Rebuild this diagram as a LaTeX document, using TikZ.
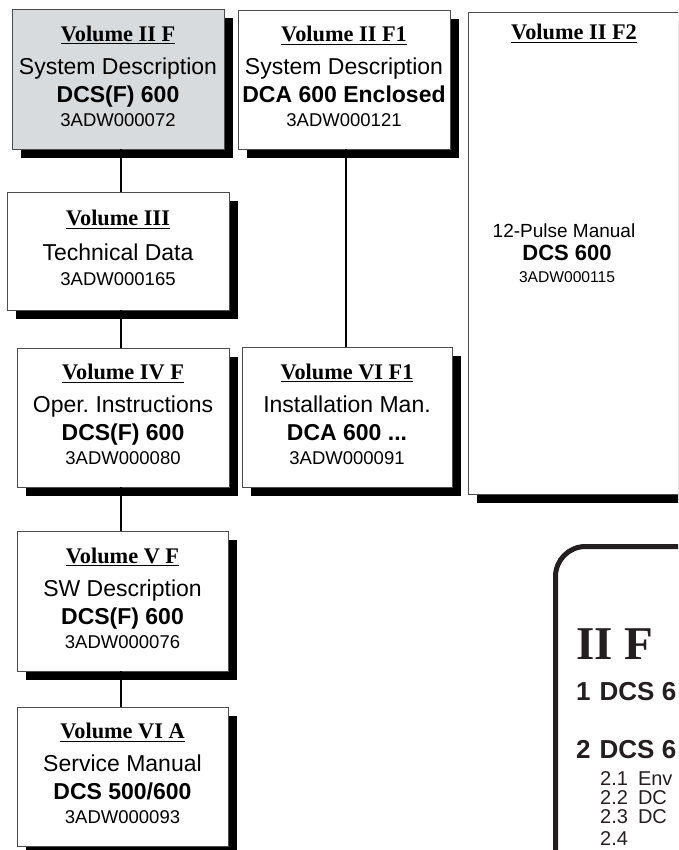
\documentclass[tikz,border=0pt]{standalone}
\usepackage{fontspec}
\setmainfont{Liberation Serif}
\newfontfamily\arial{Liberation Sans}
\newfontfamily\tnr{Liberation Serif}
\usetikzlibrary{shadows}
\definecolor{boxgray}{RGB}{216,219,222}
\definecolor{ink}{RGB}{35,31,32}
\frenchspacing
\newcommand\ulx[1]{\setbox0\hbox{#1}\rlap{\rule[-3.2pt]{\wd0}{1.2pt}}\box0}
\newcommand\tit[1]{{\tnr\bfseries\fontsize{22.3}{28}\selectfont\ulx{#1}}}
\newcommand\rg[1]{{\arial\mdseries\fontsize{23}{28}\selectfont #1}}
\newcommand\bd[1]{{\arial\bfseries\fontsize{23}{28}\selectfont #1}}
\newcommand\nm[1]{{\arial\mdseries\fontsize{18.5}{28}\selectfont #1\rule[-6pt]{0pt}{0pt}}}
\begin{document}
\begin{tikzpicture}[x=1pt,y=-1pt,
  vbox/.style={draw=black!70, line width=0.9pt, fill=white, inner sep=0pt, align=center,
    font=\fontsize{22}{28}\selectfont,
    drop shadow={shadow xshift=9pt,shadow yshift=-9pt,fill=black,opacity=1}},
  conn/.style={line width=2pt, black},
  lbl/.style={inner sep=0pt},
  rtxt/.style={inner sep=0pt, anchor=base west, text=ink}]
\useasboundingbox (0,0) rectangle (678,850);
\clip (0,0) rectangle (678,850);
\coordinate (cx) at (121,0);
\coordinate (cy) at (346,0);
% left column
\node[vbox, fill=boxgray, minimum width=212pt, minimum height=140pt] (b1) at (118,79)
  {\tit{Volume II F}\\[5pt]\rg{System Description}\\\bd{DCS(F) 600}\\[-4pt]\nm{3ADW000072}};
\node[vbox, minimum width=222pt, minimum height=118pt] (b2) at (118,251)
  {\tit{Volume III}\\[7pt]\rg{Technical Data}\\[-3pt]\nm{3ADW000165}};
\node[vbox, minimum width=212pt, minimum height=139pt] (b3) at (123,417.5)
  {\tit{Volume IV F}\\[5pt]\rg{Oper. Instructions}\\\bd{DCS(F) 600}\\[-4pt]\nm{3ADW000080}};
\node[vbox, minimum width=211pt, minimum height=140pt] (b4) at (122.5,601)
  {\tit{Volume V F}\\[5pt]\rg{SW Description}\\\bd{DCS(F) 600}\\[-4pt]\nm{3ADW000076}};
\node[vbox, minimum width=211pt, minimum height=139pt] (b5) at (122.5,776.5)
  {\tit{Volume VI A}\\[5pt]\rg{Service Manual}\\\bd{DCS 500/600}\\[-4pt]\nm{3ADW000093}};
% middle column
\node[vbox, minimum width=212pt, minimum height=139pt] (f1) at (344,79.5)
  {\tit{Volume II F1}\\[5pt]\rg{System Description}\\\bd{DCA 600 Enclosed}\\[-4pt]\nm{3ADW000121}};
\node[vbox, minimum width=210pt, minimum height=140pt] (v1) at (347,417)
  {\tit{Volume VI F1}\\[5pt]\rg{Installation Man.}\\\bd{DCA 600 ...}\\[-4pt]\nm{3ADW000091}};
% right box
\node[vbox, minimum width=252pt, minimum height=482pt] (f2) at (594,253) {};
\node[lbl, anchor=base, font=\tnr\bfseries\fontsize{22.3}{28}\selectfont] (f2t) at (574,40) {\ulx{Volume II F2}};
\node[lbl, anchor=base, font=\arial\fontsize{19}{23}\selectfont] (f2a) at (564,237) {12-Pulse Manual};
\node[lbl, anchor=base, font=\arial\bfseries\fontsize{22}{26}\selectfont] (f2b) at (567,260) {DCS 600};
\node[lbl, anchor=base, font=\arial\fontsize{15.6}{20}\selectfont] (f2c) at (567,282) {3ADW000115};
% connectors
\draw[conn] (b1.south -| cx) -- (b2.north -| cx);
\draw[conn] (b2.south -| cx) -- (b3.north -| cx);
\draw[conn] (b3.south -| cx) -- (b4.north -| cx);
\draw[conn] (b4.south -| cx) -- (b5.north -| cx);
\draw[conn] (f1.south -| cy) -- (v1.north -| cy);
% rounded frame (partly outside)
\draw[ink, line width=5pt, rounded corners=30pt] (555.5,880) -- (555.5,546.5) -- (720,546.5);
\node[rtxt, font=\tnr\bfseries\fontsize{47}{50}\selectfont] (r0) at (576,659) {II F};
\node[rtxt, font=\arial\bfseries\fontsize{26}{28}\selectfont] (r1) at (576,700) {1\hspace{9pt}DCS 6};
\node[rtxt, font=\arial\bfseries\fontsize{26}{28}\selectfont] (r2) at (576,758) {2\hspace{9pt}DCS 6};
\node[rtxt, font=\arial\fontsize{20}{22}\selectfont] (r21) at (600,785) {2.1\hspace{10pt}Env};
\node[rtxt, font=\arial\fontsize{20}{22}\selectfont] (r22) at (600,804) {2.2\hspace{10pt}DC};
\node[rtxt, font=\arial\fontsize{20}{22}\selectfont] (r23) at (600,823) {2.3\hspace{10pt}DC};
\node[rtxt, font=\arial\fontsize{20}{22}\selectfont] (r24) at (600,845) {2.4};
\end{tikzpicture}
\end{document}
